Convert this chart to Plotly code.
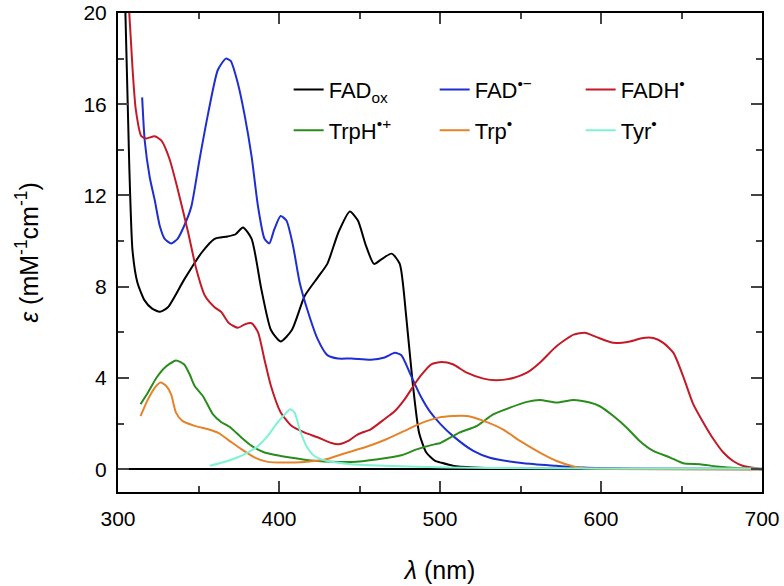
import plotly.graph_objects as go

# ---- data ----
fadox_x = [304.6, 307, 309, 312, 316.5, 321, 326, 331, 341, 352, 360, 368, 373, 377.6, 383, 389, 395, 401,
           408, 416, 424, 430, 437, 444, 449, 454, 459, 463.6, 470, 475, 479, 483, 487, 491.5, 497, 500,
           508, 521, 540, 600, 700]
fadox_y = [20, 13.3, 9.6, 8.2, 7.4, 7.05, 6.9, 7.1, 8.3, 9.5, 10.1, 10.2, 10.3, 10.6, 10.1, 7.9, 6.1, 5.6,
           6.1, 7.6, 8.4, 9.0, 10.4, 11.3, 10.9, 9.8, 9.0, 9.2, 9.45, 9.0, 6.7, 3.8, 1.6, 0.73, 0.36, 0.3,
           0.15, 0.07, 0.03, 0.01, 0.0]

fadsq_x = [315, 316.6, 319.7, 322.8, 326, 329, 333, 337, 341, 345.5, 350.7, 356, 362, 367, 370, 374.5,
           378.7, 383, 387, 391, 394, 397, 401, 404.6, 408.7, 412.8, 418, 424, 430, 436.6, 445, 457,
           465.6, 472, 476, 482, 488, 494, 500, 508, 520.7, 531, 552, 572, 589, 620, 700]
fadsq_y = [16.3, 14.4, 12.8, 11.8, 10.65, 10.1, 9.9, 10.1, 10.65, 11.5, 13.6, 15.6, 17.5, 18.0, 17.9, 16.9,
           15.5, 13.7, 11.5, 10.1, 9.9, 10.5, 11.1, 10.9, 9.8, 8.2, 6.9, 5.7, 5.0, 4.85, 4.85, 4.8,
           4.9, 5.1, 5.0, 4.1, 3.2, 2.5, 2.0, 1.46, 0.8, 0.5, 0.26, 0.15, 0.07, 0.03, 0.02]

fadh_x = [307, 309, 311, 314.5, 317.6, 322.8, 327, 332, 337, 343.5, 348.7, 354, 360, 364, 369, 374.5, 378.7,
          383, 387, 391, 395, 401, 407.7, 416, 424, 432.5, 437.7, 443, 449, 457, 465.6, 472, 478, 484, 488,
          494.6, 501, 508, 516.6, 527, 535, 545.5, 554, 562, 572.5, 583, 590, 597, 607.7, 618, 626, 632.5,
          638.7, 645, 651, 657, 663.6, 670, 676, 682, 688, 697, 700]
fadh_y = [20, 17.6, 15.8, 14.6, 14.5, 14.6, 14.4, 13.6, 12.3, 10.4, 8.75, 7.6, 7.1, 6.9, 6.4, 6.2, 6.35,
          6.4, 6.0, 4.8, 3.65, 2.5, 1.9, 1.6, 1.4, 1.15, 1.1, 1.24, 1.53, 1.75, 2.2, 2.55, 3.06, 3.7, 4.1,
          4.6, 4.7, 4.6, 4.23, 3.97, 3.9, 4.0, 4.23, 4.67, 5.4, 5.9, 5.98, 5.8, 5.54, 5.6, 5.75, 5.75,
          5.54, 5.1, 4.08, 2.9, 2.04, 1.3, 0.73, 0.36, 0.15, 0.03, 0.0]

trph_x = [314, 318.6, 323.8, 329, 336, 341, 344.5, 347.6, 352.8, 359, 364, 370, 376.6, 383, 391, 401, 414,
          424, 445, 461.5, 476, 486, 497, 500, 512, 523, 533, 543.5, 554, 562, 572.5, 583, 593, 599,
          607.7, 616, 624, 632.5, 643, 651, 661.5, 672, 686, 700]
trph_y = [2.85, 3.36, 4.0, 4.45, 4.77, 4.6, 4.16, 3.65, 3.2, 2.4, 2.07, 1.82, 1.39, 1.02, 0.73, 0.58, 0.44,
          0.36, 0.32, 0.44, 0.61, 0.88, 1.1, 1.14, 1.6, 1.9, 2.4, 2.7, 2.95, 3.03, 2.92, 3.03, 2.92, 2.77,
          2.33, 1.82, 1.24, 0.8, 0.51, 0.26, 0.22, 0.12, 0.04, 0.0]

trp_x = [314, 318.6, 322.8, 326.5, 330, 333, 336, 340, 347.6, 356, 362, 368, 376.6, 385, 393, 403.5, 416,
         428, 441, 453, 465.6, 478, 488, 499, 508, 516.6, 527, 539, 549.7, 562, 572.5, 583, 589, 620, 700]
trp_y = [2.33, 3.06, 3.57, 3.8, 3.65, 3.28, 2.48, 2.12, 1.9, 1.75, 1.6, 1.31, 0.88, 0.51, 0.32, 0.29, 0.32,
         0.41, 0.7, 0.95, 1.28, 1.68, 2.01, 2.26, 2.33, 2.33, 2.12, 1.75, 1.24, 0.73, 0.36, 0.12, 0.04,
         0.01, 0.0]

tyr_x = [357, 368, 378.7, 387, 393, 399, 403.5, 407, 409.7, 412.8, 417, 422, 430, 445, 465.6, 505, 560,
         620, 700]
tyr_y = [0.15, 0.36, 0.66, 1.02, 1.46, 2.04, 2.4, 2.63, 2.48, 1.75, 1.02, 0.58, 0.36, 0.22, 0.15, 0.07,
         0.04, 0.03, 0.03]

series_names = ["FAD<sub>ox</sub>", "FAD<sup>•−</sup>", "FADH<sup>•</sup>",
                "TrpH<sup>•+</sup>", "Trp<sup>•</sup>", "Tyr<sup>•</sup>"]
series_colors = ["#000000", "#1f2ed0", "#c41a28", "#2a8c1c", "#e5832a", "#7ff2d4"]
series_x = [fadox_x, fadsq_x, fadh_x, trph_x, trp_x, tyr_x]
series_y = [fadox_y, fadsq_y, fadh_y, trph_y, trp_y, tyr_y]
series_legend = ["legend", "legend", "legend", "legend2", "legend2", "legend2"]

x_ticks = [300, 400, 500, 600, 700]
y_ticks = [0, 4, 8, 12, 16, 20]

fig = go.Figure()
for name, col, xs, ys, lg in zip(series_names, series_colors, series_x, series_y, series_legend):
    fig.add_trace(go.Scatter(x=xs, y=ys, mode="lines", name=name, legend=lg,
                             line=dict(color=col, width=2, shape="spline", smoothing=0.6)))

font_family = "Liberation Sans, Arial, sans-serif"
legend_common = dict(orientation="h", xanchor="left", yanchor="middle", bgcolor="rgba(0,0,0,0)",
                     font=dict(family=font_family, size=22, color="#000"),
                     entrywidth=101, entrywidthmode="pixels", itemclick=False, tracegroupgap=0)

fig.update_layout(
    width=784, height=586,
    margin=dict(l=118, r=22, t=13, b=94, autoexpand=False),
    paper_bgcolor="white", plot_bgcolor="white",
    font=dict(family=font_family, size=21, color="#000"),
    legend=dict(x=0.265, y=0.84, **legend_common),
    legend2=dict(x=0.265, y=0.755, **legend_common),
    xaxis=dict(range=[300, 700], tickvals=x_ticks, ticks="inside", ticklen=11, tickwidth=2,
               showline=True, linecolor="#000", linewidth=2, mirror="allticks", showgrid=False,
               zeroline=False, tickfont=dict(size=21), automargin=False, ticklabelstandoff=7,
               minor=dict(dtick=50, tick0=300, ticks="inside", ticklen=6, tickwidth=2, showgrid=False),
               title=dict(text="<i>λ</i> (nm)", font=dict(size=25), standoff=32)),
    yaxis=dict(range=[-1, 20], tickvals=y_ticks, ticks="inside", ticklen=11, tickwidth=2,
               showline=True, linecolor="#000", linewidth=2, mirror="allticks", showgrid=False,
               zeroline=True, zerolinecolor="#000", zerolinewidth=1.5, tickfont=dict(size=21),
               automargin=False, ticklabelstandoff=5,
               minor=dict(dtick=2, tick0=0, ticks="inside", ticklen=6, tickwidth=2, showgrid=False),
               title=dict(text="<i>ε</i> (mM<sup>-1</sup>cm<sup>-1</sup>)", font=dict(size=25), standoff=38)),
)

fig.write_html("out.html", config={"displayModeBar": False},
               post_script="document.body.style.margin='0px'; document.body.style.overflow='hidden';")
